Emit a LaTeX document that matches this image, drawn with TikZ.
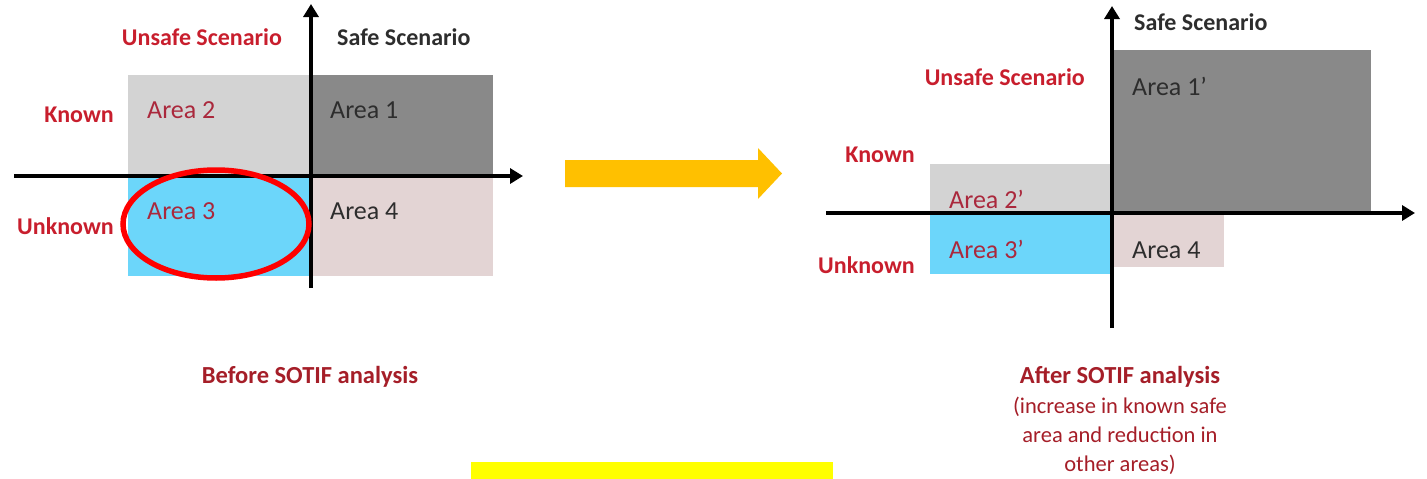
\documentclass[tikz,border=0pt]{standalone}
\usepackage{fontspec}
\setmainfont{Carlito}
\usetikzlibrary{arrows.meta}
\definecolor{labelred}{RGB}{200,30,45}
\definecolor{areared}{RGB}{170,40,60}
\definecolor{captionred}{RGB}{165,30,40}
\definecolor{darktext}{RGB}{45,45,45}
\definecolor{knownunsafe}{RGB}{211,211,211}
\definecolor{knownsafe}{RGB}{137,137,137}
\definecolor{unknownunsafe}{RGB}{108,214,250}
\definecolor{unknownsafe}{RGB}{227,212,212}
\definecolor{flowarrow}{RGB}{255,192,0}
\definecolor{highlight}{RGB}{255,255,0}
\tikzset{
  axis/.style={line width=3.5pt, -{Triangle[length=13pt,width=15pt]}},
  lbl/.style={font=\fontsize{24}{28}\selectfont\bfseries, text=labelred, inner sep=0pt},
  scen/.style={font=\fontsize{24}{28}\selectfont\bfseries, text=darktext, inner sep=0pt},
  arearedtxt/.style={font=\fontsize{26}{30}\selectfont, text=areared, inner sep=0pt, anchor=west},
  areadarktxt/.style={font=\fontsize{26}{30}\selectfont, text=darktext, inner sep=0pt, anchor=west},
  captionbold/.style={font=\fontsize{24.5}{29}\selectfont\bfseries, text=captionred, inner sep=0pt},
  caption/.style={font=\fontsize{22.5}{29}\selectfont, text=captionred, inner sep=0pt, align=center},
}
\begin{document}
\begin{tikzpicture}[x=1pt, y=-1pt]
\useasboundingbox (0,0) rectangle (1427,479);

% ---- before: four quadrants ----
\fill[knownunsafe]   (128,75)  rectangle (311,176);
\fill[knownsafe]     (311,75)  rectangle (493,176);
\fill[unknownunsafe] (128,176) rectangle (311,276);
\fill[unknownsafe]   (311,176) rectangle (493,276);

\coordinate (bxL) at (14,176);
\coordinate (bxR) at (523,176);
\coordinate (byB) at (311,288);
\coordinate (byT) at (311,4);
\draw[axis] (bxL) -- (bxR);
\draw[axis] (byB) -- (byT);

\node[lbl] (bUnsafe) at (202,37) {Unsafe Scenario};
\node[scen, anchor=west] (bSafe) at (337,37) {Safe Scenario};
\node[lbl, anchor=east] (bKnown) at (114,115) {Known};
\node[lbl, anchor=east] (bUnknown) at (114,226) {Unknown};

\node[arearedtxt]  (a2) at (147,110) {Area 2};
\node[areadarktxt] (a1) at (330,110) {Area 1};
\node[arearedtxt]  (a3) at (147,211) {Area 3};
\node[areadarktxt] (a4) at (330,211) {Area 4};

% area of interest
\draw[red, line width=5.5pt] (216,224) ellipse [x radius=93, y radius=54];

\node[captionbold] (bCap) at (310,377) {Before SOTIF analysis};

% ---- transition arrow ----
\fill[flowarrow] (565,160) -- (758,160) -- (758,148) -- (782,173.5) -- (758,199) -- (758,187) -- (565,187) -- cycle;

% ---- after: four quadrants ----
\fill[knownunsafe]   (930,164)  rectangle (1112,213);
\fill[knownsafe]     (1112,50)  rectangle (1371,213);
\fill[unknownunsafe] (930,213)  rectangle (1112,274);
\fill[unknownsafe]   (1112,213) rectangle (1224,267);

\coordinate (axL) at (826,213);
\coordinate (axR) at (1415,213);
\coordinate (ayB) at (1112,328);
\coordinate (ayT) at (1112,6);
\draw[axis] (axL) -- (axR);
\draw[axis] (ayB) -- (ayT);

\node[scen, anchor=west] (aSafe) at (1134,22) {Safe Scenario};
\node[lbl, anchor=east] (aUnsafe) at (1085,77) {Unsafe Scenario};
\node[lbl, anchor=east] (aKnown) at (915,155) {Known};
\node[lbl, anchor=east] (aUnknown) at (915,265) {Unknown};

\node[areadarktxt] (a1p) at (1132,86)  {Area 1’};
\node[arearedtxt]  (a2p) at (949,199)  {Area 2’};
\node[arearedtxt]  (a3p) at (949,249)  {Area 3’};
\node[areadarktxt] (a4p) at (1132,250) {Area 4};

\node[captionbold] (aCap) at (1120,377) {After SOTIF analysis};
\node[caption, anchor=north] (aNote) at (1120,397) {(increase in known safe\\area and reduction in\\other areas)};

% highlight bar
\fill[highlight] (471,462) rectangle (833,479);
\end{tikzpicture}
\end{document}
